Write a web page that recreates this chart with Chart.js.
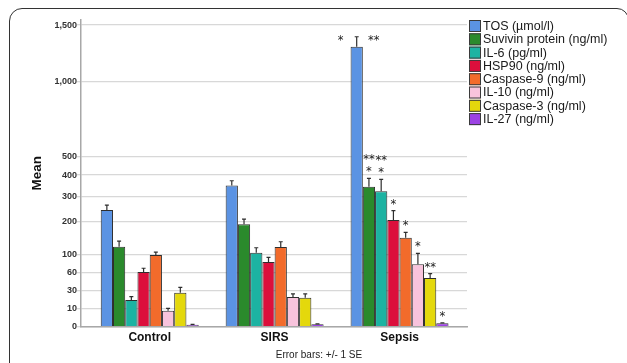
<!DOCTYPE html>
<html>
<head>
<meta charset="utf-8">
<script src="https://cdn.jsdelivr.net/npm/chart.js"></script>
<style>
  html, body { margin: 0; padding: 0; background: #fff; }
  #wrap { position: relative; width: 627px; height: 363px; overflow: hidden; }
  #frame {
    position: absolute; left: 9px; top: 8px; width: 620px; height: 420px;
    border: 1.5px solid #333; border-radius: 13px 12px 0 0; box-sizing: border-box;
  }
  canvas { position: absolute; left: 0; top: 0; }
</style>
</head>
<body>
<div id="wrap">
  <div id="frame"></div>
  <canvas id="chart" width="627" height="363"></canvas>
</div>
<script>
// Groups on the x axis
const CATEGORIES = ['Control', 'SIRS', 'Sepsis'];

// Group means and standard errors, one array per marker
const TOS = [244, 350, 1298];
const TOS_SE = [20, 22, 91];
const SURVIVIN = [122, 192, 344];
const SURVIVIN_SE = [16, 18, 40];
const IL6 = [18.5, 106, 323];
const IL6_SE = [4, 13, 56];
const HSP90 = [62, 83, 207];
const HSP90_SE = [7.5, 11, 35];
const CASPASE9 = [100, 121, 148];
const CASPASE9_SE = [7.5, 15, 17];
const IL10 = [8.4, 22, 78];
const IL10_SE = [2, 4, 26];
const CASPASE3 = [27.5, 21, 50.5];
const CASPASE3_SE = [7.5, 5, 8];
const IL27 = [0.6, 0.8, 1.1];
const IL27_SE = [0.1, 0.1, 0.2];

const SERIES_LABELS = ['TOS (\u00b5mol/l)', 'Suvivin protein (ng/ml)', 'IL-6 (pg/ml)', 'HSP90 (ng/ml)',
  'Caspase-9 (ng/ml)', 'IL-10 (ng/ml)', 'Caspase-3 (ng/ml)', 'IL-27 (ng/ml)'];
const SERIES_VALUES = [TOS, SURVIVIN, IL6, HSP90, CASPASE9, IL10, CASPASE3, IL27];
const SERIES_SE = [TOS_SE, SURVIVIN_SE, IL6_SE, HSP90_SE, CASPASE9_SE, IL10_SE, CASPASE3_SE, IL27_SE];
const SERIES_COLORS = ['#5b93e3', '#2a8a2c', '#1cb3a2', '#dc0f3c', '#f26b2b', '#f8c3dc', '#e4d80c', '#9c42e4'];

// Significance marks above the Sepsis bars (top line first)
const SEPSIS_MARKS = [['*', '**'], ['**', '*'], ['**', '*'], ['*'], ['*'], ['*'], ['**'], ['*']];

// Tick values of the square-root value axis
const Y_TICKS = [0, 10, 30, 60, 100, 200, 300, 400, 500, 1000, 1500];
const Y_MAX = 1549;
const ROOT_SHIFT = 1.25;

// Square-root value scale
class RootScale extends Chart.LinearScale {
  static id = 'rootScale';
  static defaults = {};
  buildTicks() { return Y_TICKS.map(v => ({ value: v })); }
  _root(v) { return Math.sqrt(Math.max(v, 0) + ROOT_SHIFT) - Math.sqrt(ROOT_SHIFT); }
  getPixelForValue(v) {
    if (v === null || v === undefined || isNaN(v)) return NaN;
    const lo = this._root(this.min), hi = this._root(this.max);
    return this.getPixelForDecimal((this._root(v) - lo) / (hi - lo));
  }
  getValueForPixel(p) {
    const lo = this._root(this.min), hi = this._root(this.max);
    const r = lo + this.getDecimalForPixel(p) * (hi - lo) + Math.sqrt(ROOT_SHIFT);
    return r * r - ROOT_SHIFT;
  }
}
Chart.register(RootScale);

const withCommas = v => String(v).replace(/\B(?=(\d{3})+(?!\d))/g, ',');

// Upper error bars, significance marks, legend and footnote
const overlay = {
  id: 'overlay',
  afterDatasetsDraw(chart) {
    const ctx = chart.ctx;
    const y = chart.scales.y;
    ctx.save();
    // error bars (+1 SE)
    ctx.strokeStyle = '#2e2e2e';
    ctx.lineWidth = 1.2;
    const errTops = [];
    SERIES_VALUES.forEach((vals, i) => {
      const meta = chart.getDatasetMeta(i);
      errTops.push([]);
      vals.forEach((v, j) => {
        const bar = meta.data[j];
        const y0 = y.getPixelForValue(v);
        const y1 = y.getPixelForValue(v + SERIES_SE[i][j]);
        errTops[i].push(y1);
        ctx.beginPath();
        ctx.moveTo(bar.x, y0);
        ctx.lineTo(bar.x, y1);
        ctx.moveTo(bar.x - 2, y1);
        ctx.lineTo(bar.x + 2, y1);
        ctx.stroke();
      });
    });
    // significance marks on the Sepsis group
    const sep = CATEGORIES.indexOf('Sepsis');
    const fs = 11.5;
    ctx.font = fs + 'px "DejaVu Sans"';
    ctx.fillStyle = '#222';
    ctx.textAlign = 'center';
    ctx.textBaseline = 'alphabetic';
    const starLift = 0.6 * fs; // baseline below the glyph centre
    SEPSIS_MARKS.forEach((lines, i) => {
      const bar = chart.getDatasetMeta(i).data[sep];
      const top = errTops[i][sep];
      if (i === 0) {
        ctx.fillText(lines[0], bar.x - 16, top + starLift);
        ctx.fillText(lines[1], bar.x + 17, top + starLift);
      } else {
        const n = lines.length;
        lines.forEach((s, k) => {
          const cy = top - 10 - (n - 1 - k) * 12;
          ctx.fillText(s, bar.x, cy + starLift);
        });
      }
    });
    // legend
    const lx = chart.chartArea.right + 2;
    ctx.font = '12.5px "Liberation Sans"';
    ctx.textAlign = 'left';
    ctx.textBaseline = 'middle';
    SERIES_LABELS.forEach((lab, i) => {
      const cy = 26 + i * 13.3;
      ctx.fillStyle = SERIES_COLORS[i];
      ctx.fillRect(lx, cy - 6, 12, 12);
      ctx.strokeStyle = '#3a3a3a';
      ctx.lineWidth = 1;
      ctx.strokeRect(lx + 0.5, cy - 5.5, 11, 11);
      ctx.fillStyle = '#1a1a1a';
      ctx.fillText(lab, lx + 14, cy + 0.5);
    });
    // footnote
    ctx.font = '10px "Liberation Sans"';
    ctx.textAlign = 'center';
    ctx.fillStyle = '#222';
    ctx.fillText('Error bars: +/- 1 SE', 319, 355);
    ctx.restore();
  }
};

new Chart(document.getElementById('chart'), {
  type: 'bar',
  data: {
    datasets: SERIES_VALUES.map((vals, i) => ({
      label: SERIES_LABELS[i],
      data: vals.map((v, j) => ({ x: j, y: v })),
      backgroundColor: SERIES_COLORS[i],
      borderColor: '#2e2e2e',
      borderWidth: 1,
      categoryPercentage: 0.784,
      barPercentage: 1.0
    }))
  },
  options: {
    responsive: false,
    animation: false,
    devicePixelRatio: 1,
    layout: { padding: { left: 29, right: 160, top: 20, bottom: 0 } },
    plugins: { legend: { display: false }, tooltip: { enabled: false } },
    scales: {
      x: {
        type: 'linear',
        offset: false,
        min: -0.55,
        max: 2.54,
        afterBuildTicks: s => { s.ticks = CATEGORIES.map((_, i) => ({ value: i })); },
        afterFit: s => { s.height = 36.3; },
        grid: { display: false, drawTicks: false, offset: false },
        border: { display: true, color: '#a8a8a8', width: 1.5 },
        ticks: {
          autoSkip: false,
          maxRotation: 0,
          padding: 4,
          color: '#111',
          font: { family: 'Liberation Sans', size: 12, weight: 'bold' },
          callback: v => CATEGORIES[v]
        }
      },
      y: {
        type: 'rootScale',
        min: 0,
        max: Y_MAX,
        afterFit: s => { s.width = 52; },
        grid: { color: '#d8d8d8', lineWidth: 1.3, tickLength: 4, drawTicks: true },
        border: { display: true, color: '#a8a8a8', width: 1.5 },
        ticks: {
          autoSkip: false,
          padding: 0,
          color: '#333',
          font: { family: 'Liberation Sans', size: 9, weight: 'bold' },
          callback: v => withCommas(v)
        },
        title: {
          display: true,
          text: 'Mean',
          padding: 0,
          color: '#111',
          font: { family: 'Liberation Sans', size: 13.5, weight: 'bold' }
        }
      }
    }
  },
  plugins: [overlay]
});
</script>
</body>
</html>
